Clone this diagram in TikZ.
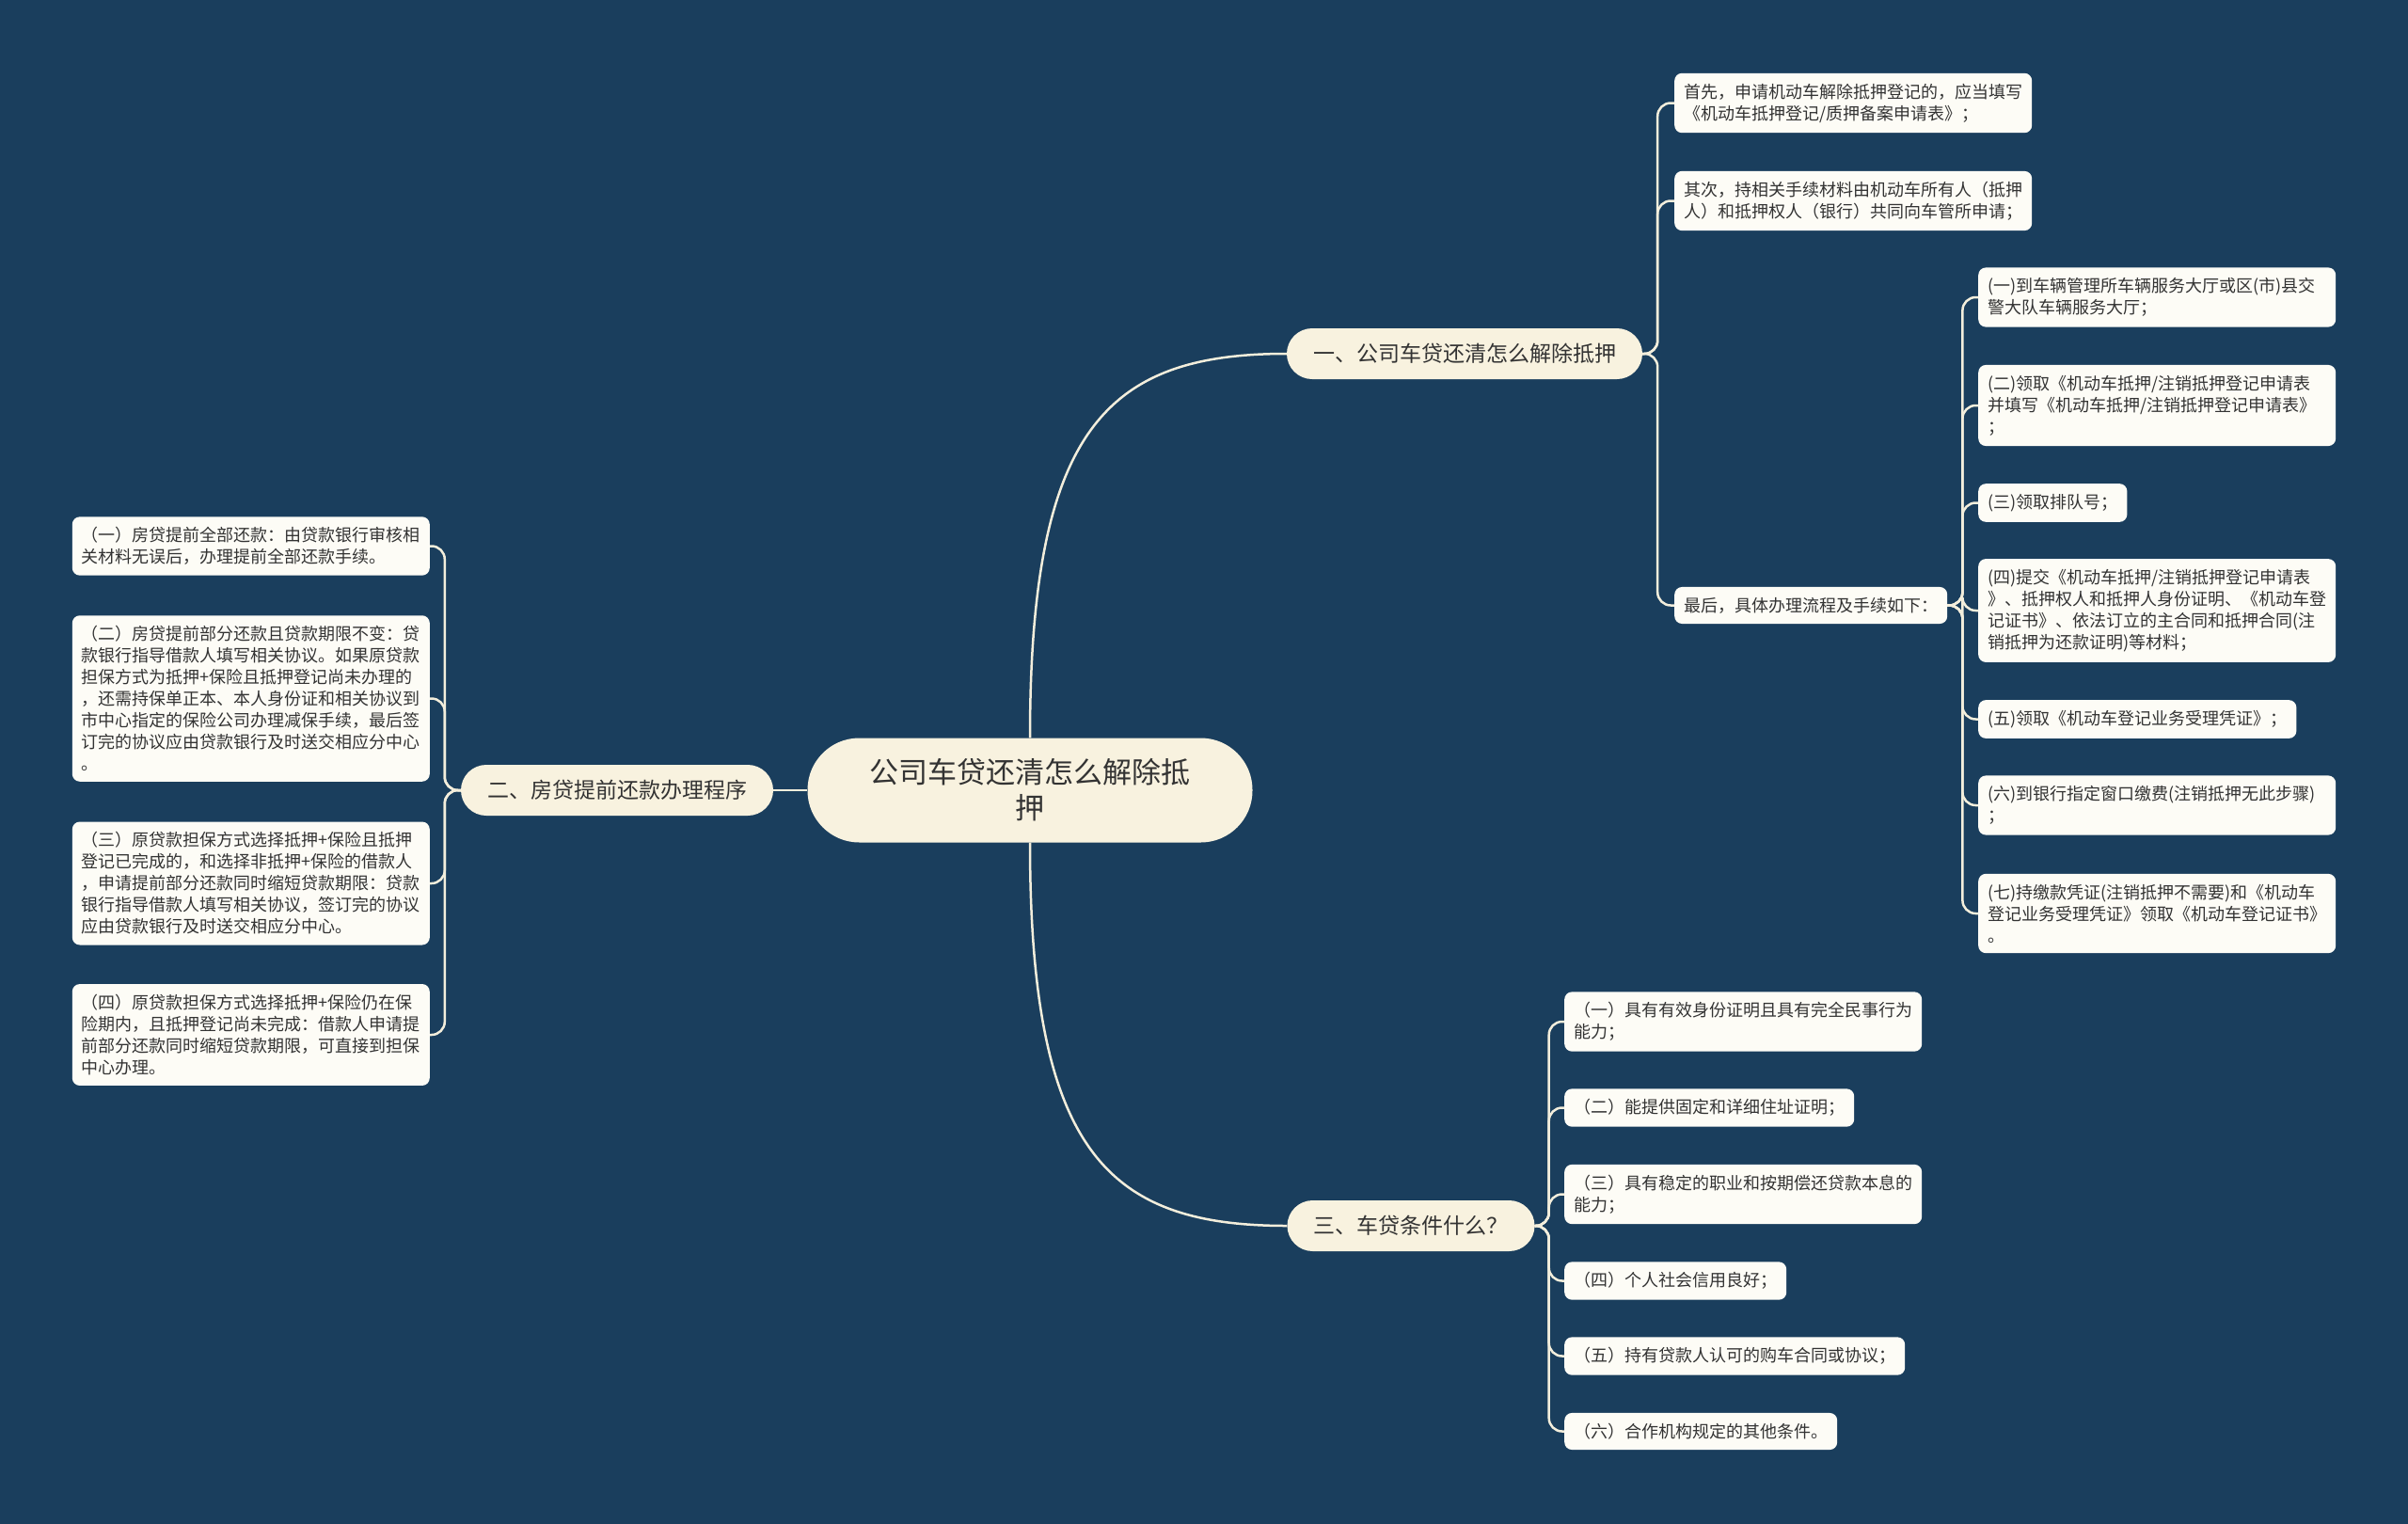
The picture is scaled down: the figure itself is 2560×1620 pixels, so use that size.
\documentclass[tikz,border=0pt]{standalone}
\usepackage{fontspec}
\setmainfont{Noto Sans CJK SC}
\usepackage{xcolor}
\usepackage{tikz}
\definecolor{bgblue}{HTML}{1A3E5D}
\definecolor{cream}{HTML}{F8F2DF}
\definecolor{leafwhite}{HTML}{FDFCF6}
\definecolor{inkgray}{HTML}{333333}
\definecolor{linecream}{HTML}{F3EEDC}

\begin{document}
\begin{tikzpicture}[x=1pt,y=-1pt,
  root/.style={fill=cream,text=inkgray,rounded corners=55pt,minimum width=473pt,minimum height=111pt,align=center,font=\fontsize{31}{38}\selectfont},
  topic/.style={fill=cream,text=inkgray,rounded corners=27pt,minimum height=54pt,inner xsep=28pt,font=\fontsize{23}{28}\selectfont},
  leaf/.style={fill=leafwhite,text=inkgray,rounded corners=8pt,inner xsep=10pt,inner ysep=11pt,align=left,font=\fontsize{18}{23}\selectfont},
  wideleaf/.style={leaf,text width=360pt},
  link/.style={draw=linecream,line width=2.5pt,rounded corners=14pt}]
\useasboundingbox (0,0) rectangle (2560,1620);
\fill[bgblue] (0,0) rectangle (2560,1620);

% centre and the three topics
\node[root] (ctr) at (1095,840) {公司车贷还清怎么解除抵\\押};
\node[topic] (m1) at (1557,376) {一、公司车贷还清怎么解除抵押};
\node[topic] (m2) at (656,840) {二、房贷提前还款办理程序};
\node[topic] (m3) at (1500,1303) {三、车贷条件什么？};

% topic one
\node[leaf,anchor=west] (c1) at (1780,109.5) {首先，申请机动车解除抵押登记的，应当填写\\《机动车抵押登记/质押备案申请表》；};
\node[leaf,anchor=west] (c2) at (1780,213.5) {其次，持相关手续材料由机动车所有人（抵押\\人）和抵押权人（银行）共同向车管所申请；};
\node[leaf,anchor=west] (c3) at (1780,643.5) {最后，具体办理流程及手续如下：};

\node[wideleaf,anchor=west] (g1) at (2103,316) {(一)到车辆管理所车辆服务大厅或区(市)县交\\警大队车辆服务大厅；};
\node[wideleaf,anchor=west] (g2) at (2103,431) {(二)领取《机动车抵押/注销抵押登记申请表\\并填写《机动车抵押/注销抵押登记申请表》\\；};
\node[leaf,anchor=west] (g3) at (2103,534.5) {(三)领取排队号；};
\node[wideleaf,anchor=west] (g4) at (2103,649) {(四)提交《机动车抵押/注销抵押登记申请表\\》、抵押权人和抵押人身份证明、《机动车登\\记证书》、依法订立的主合同和抵押合同(注\\销抵押为还款证明)等材料；};
\node[leaf,anchor=west] (g5) at (2103,764.5) {(五)领取《机动车登记业务受理凭证》；};
\node[wideleaf,anchor=west] (g6) at (2103,856) {(六)到银行指定窗口缴费(注销抵押无此步骤)\\；};
\node[wideleaf,anchor=west] (g7) at (2103,971) {(七)持缴款凭证(注销抵押不需要)和《机动车\\登记业务受理凭证》领取《机动车登记证书》\\。};

% topic two
\node[leaf,anchor=east] (l1) at (457,580.5) {（一）房贷提前全部还款：由贷款银行审核相\\关材料无误后，办理提前全部还款手续。};
\node[leaf,anchor=east] (l2) at (457,742.5) {（二）房贷提前部分还款且贷款期限不变：贷\\款银行指导借款人填写相关协议。如果原贷款\\担保方式为抵押+保险且抵押登记尚未办理的\\，还需持保单正本、本人身份证和相关协议到\\市中心指定的保险公司办理减保手续，最后签\\订完的协议应由贷款银行及时送交相应分中心\\。};
\node[leaf,anchor=east] (l3) at (457,939) {（三）原贷款担保方式选择抵押+保险且抵押\\登记已完成的，和选择非抵押+保险的借款人\\，申请提前部分还款同时缩短贷款期限：贷款\\银行指导借款人填写相关协议，签订完的协议\\应由贷款银行及时送交相应分中心。};
\node[leaf,anchor=east] (l4) at (457,1100) {（四）原贷款担保方式选择抵押+保险仍在保\\险期内，且抵押登记尚未完成：借款人申请提\\前部分还款同时缩短贷款期限，可直接到担保\\中心办理。};

% topic three
\node[leaf,anchor=west] (h1) at (1663,1086) {（一）具有有效身份证明且具有完全民事行为\\能力；};
\node[leaf,anchor=west] (h2) at (1663,1177.5) {（二）能提供固定和详细住址证明；};
\node[leaf,anchor=west] (h3) at (1663,1269.5) {（三）具有稳定的职业和按期偿还贷款本息的\\能力；};
\node[leaf,anchor=west] (h4) at (1663,1361.5) {（四）个人社会信用良好；};
\node[leaf,anchor=west] (h5) at (1663,1441.5) {（五）持有贷款人认可的购车合同或协议；};
\node[leaf,anchor=west] (h6) at (1663,1521.5) {（六）合作机构规定的其他条件。};

% connectors
\draw[link] (ctr.north) .. controls +(0,-330) and +(-190,0) .. (m1.west);
\draw[link] (ctr.south) .. controls +(0,330) and +(-190,0) .. (m3.west);
\draw[link] (ctr.west) -- (m2.east);
\foreach \n in {c1,c2,c3}
  \draw[link] (m1.east) -- ++(16,0) |- (\n.west);
\foreach \i in {1,...,7}
  \draw[link] (c3.east) -- ++(16,0) |- (g\i.west);
\foreach \i in {1,...,4}
  \draw[link] (m2.west) -- ++(-17,0) |- (l\i.east);
\foreach \i in {1,...,6}
  \draw[link] (m3.east) -- ++(15,0) |- (h\i.west);
\end{tikzpicture}
\end{document}
